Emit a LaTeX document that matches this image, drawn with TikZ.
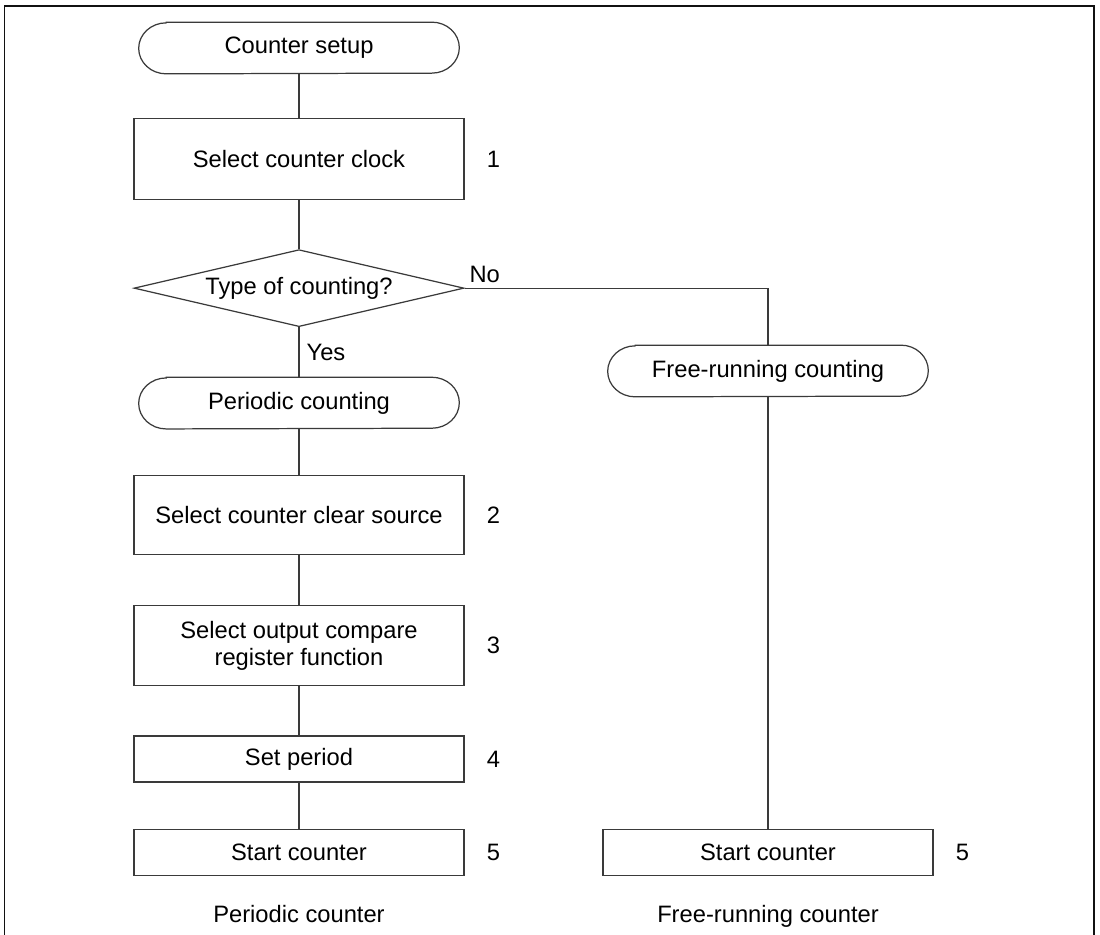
\documentclass[tikz,border=0pt]{standalone}
\usepackage{fontspec}
\setmainfont{Liberation Sans}
\usetikzlibrary{shapes.geometric, positioning, calc}
\definecolor{flowline}{HTML}{3A3A3A}
\definecolor{frameline}{HTML}{111111}

\begin{document}
\begin{tikzpicture}[
  x=0.02cm, y=-0.02cm,
  every node/.style={font=\fontsize{13.5}{15}\selectfont},
  lnk/.style={draw=flowline, line width=0.7pt},
  process/.style={rectangle, draw=flowline, line width=0.7pt, minimum width=6.6cm,
                  align=center, inner sep=0pt},
  terminal/.style={rectangle, minimum width=6.4cm, minimum height=1.02cm, inner sep=0pt},
  decision/.style={diamond, draw=flowline, line width=0.7pt, minimum width=6.6cm,
                   minimum height=1.54cm, aspect=4.3, inner sep=0pt},
  stepnum/.style={inner sep=0pt},
]
  \useasboundingbox (0,0) rectangle (1100,935);
  \draw[frameline, line width=0.8pt] (4.5,940) -- (4.5,6) -- (1094,6) -- (1094,940);

  % periodic branch
  \node[terminal] (setup) at (299,48) {Counter setup};
  \node[process, minimum height=1.62cm, below=0.88cm of setup] (clock) {Select counter clock};
  \node[decision, below=0.98cm of clock] (type) {Type of counting?};
  \node[terminal, below=1.0cm of type] (periodic) {Periodic counting};
  \node[process, minimum height=1.58cm, below=0.92cm of periodic] (clear) {Select counter clear source};
  \node[process, minimum height=1.6cm, below=1.0cm of clear] (compare) {Select output compare\\register function};
  \node[process, minimum height=0.92cm, below=0.98cm of compare] (period) {Set period};
  \node[process, minimum height=0.92cm, below=0.92cm of period] (startp) {Start counter};

  % free-running branch
  \node[terminal] (freerun) at (768,371) {Free-running counting};
  \node[process, minimum height=0.92cm] (startf) at (freerun |- startp) {Start counter};

  % step numbers
  \node[stepnum, right=0.44cm of clock] {1};
  \node[stepnum, right=0.44cm of clear] {2};
  \node[stepnum, right=0.44cm of compare] {3};
  \node[stepnum, right=0.44cm of period] {4};
  \node[stepnum, right=0.44cm of startp] {5};
  \node[stepnum, right=0.44cm of startf] {5};

  % captions
  \node[below=0.46cm of startp] (capp) {Periodic counter};
  \node[below=0.46cm of startf] (capf) {Free-running counter};

  % terminal outlines
  \foreach \t in {setup, periodic, freerun}
    \draw[lnk] ([xshift=5.5mm]\t.north west) -- ([xshift=-5.5mm]\t.north east)
      arc[start angle=90, end angle=-90, x radius=5.5mm, y radius=5.1mm]
      -- ([xshift=5.5mm]\t.south west)
      arc[start angle=270, end angle=90, x radius=5.5mm, y radius=5.1mm] -- cycle;

  % connectors
  \foreach \a/\b in {setup/clock, clock/type, periodic/clear, clear/compare,
                     compare/period, period/startp, freerun/startf}
    \draw[lnk] (\a) -- (\b);
  \draw[lnk] (type) -- node[right, inner sep=4pt] {Yes} (periodic);
  \draw[lnk] (type.east) -| node[pos=0, above right, inner sep=2.5pt] {No} (freerun.north);
\end{tikzpicture}
\end{document}
